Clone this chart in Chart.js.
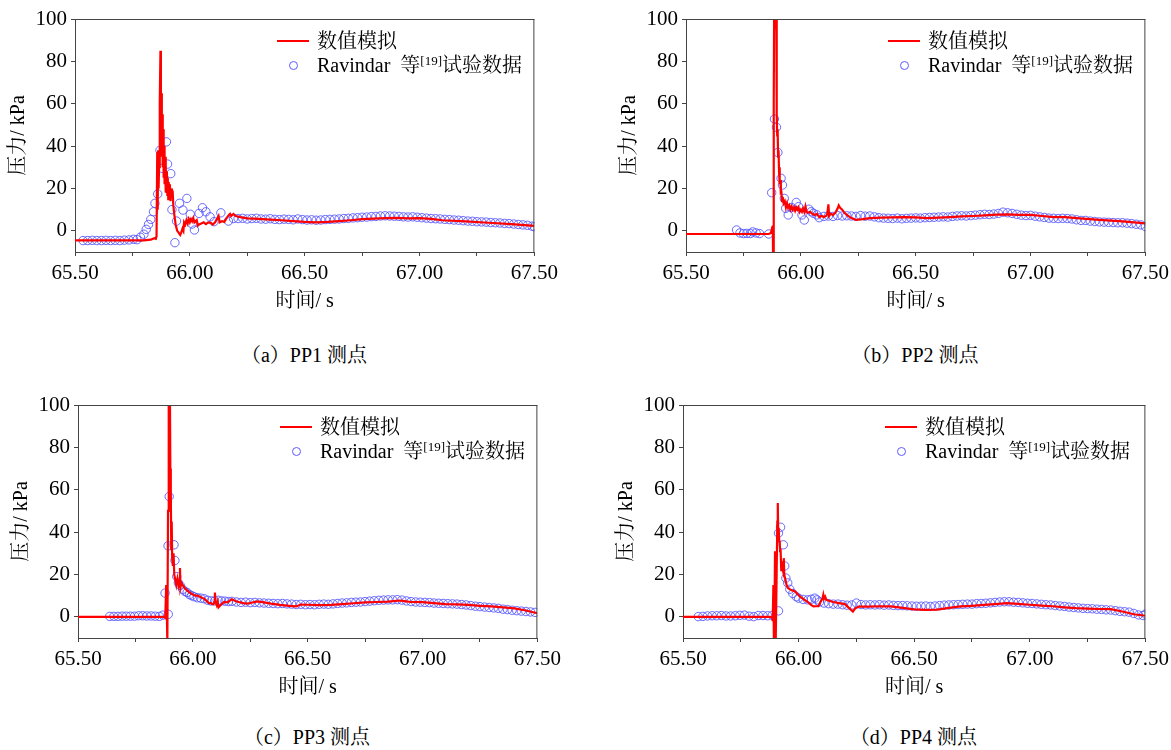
<!DOCTYPE html>
<html>
<head>
<meta charset="utf-8">
<script src="https://cdn.jsdelivr.net/npm/chart.js@4.4.1/dist/chart.umd.min.js"></script>
<style>
  html, body { margin: 0; padding: 0; background: #fff; }
  #page { position: relative; width: 1171px; height: 750px; overflow: hidden; background: #fff;
          font-family: 'Liberation Serif', 'Noto Serif CJK SC', serif; color: #000; }
  canvas { position: absolute; }
  .leg { position: absolute; font-size: 20px; line-height: 24px; white-space: nowrap; }
  .legline { position: absolute; height: 2px; width: 32px; background: #ff0000; }
  .legcirc { position: absolute; width: 7px; height: 7px; border: 1px solid #5a5aff; border-radius: 50%; }
  .leg sup { font-size: 13px; vertical-align: 0; position: relative; top: -7px; }
  .cap { position: absolute; font-size: 20px; line-height: 24px; white-space: nowrap; transform: translateX(-50%); }
</style>
</head>
<body>
<div id="page"></div>
<script>
// ---------- axis ticks ----------
const xTickValues = [65.50, 65.75, 66.00, 66.25, 66.50, 66.75, 67.00, 67.25, 67.50];
const xLabelValues = [65.50, 66.00, 66.50, 67.00, 67.50];
const yTickValues = [0, 20, 40, 60, 80, 100];
const xRange = [65.50, 67.50];
const yRange = [-10, 100];

// ---------- texts ----------
const xTitle = "时间/ s";
const yTitle = "压力/ kPa";
const simLabel = "数值模拟";
const expLabelMain = "Ravindar";
const expLabelRest = ["等", "[19]", "试验数据"];
const captions = ["（a）PP1 测点", "（b）PP2 测点", "（c）PP3 测点", "（d）PP4 测点"];

// ---------- PP1 ----------
const simA = [[65.50,-4.5],[65.80,-4.5],[65.83,-4.2],[65.845,-3.5],[65.852,-3.8],[65.855,-2.5],[65.858,37],[65.860,10],[65.862,38],[65.864,20],[65.866,30],[65.868,45],[65.870,60],[65.872,85],[65.874,50],[65.876,65],[65.878,35],[65.880,55],[65.882,30],[65.884,48],[65.886,25],[65.888,40],[65.890,22],[65.892,35],[65.894,18],[65.896,30],[65.898,20],[65.900,28],[65.902,17],[65.904,25],[65.906,15],[65.908,23],[65.910,17],[65.913,22],[65.916,14],[65.919,20],[65.922,16],[65.925,19],[65.928,12],[65.932,8],[65.938,3],[65.945,0],[65.952,-1],[65.958,-2],[65.962,-1],[65.968,1],[65.972,0],[65.975,4],[65.980,3],[65.985,5],[65.990,3.5],[65.995,5.5],[66.000,4],[66.005,5.5],[66.010,4.5],[66.015,6],[66.02,4],[66.03,5],[66.035,2.5],[66.04,3],[66.05,3.5],[66.06,4],[66.07,3.2],[66.08,4],[66.09,3.8],[66.10,3],[66.11,4],[66.12,6],[66.125,7],[66.13,4],[66.14,4.5],[66.15,4.2],[66.16,6],[66.17,7.5],[66.175,8],[66.18,7],[66.19,8],[66.20,7],[66.22,6.5],[66.25,5.9],[66.30,5.6],[66.35,5.3],[66.40,5.0],[66.45,4.6],[66.50,4.2],[66.55,4.0],[66.60,4.2],[66.65,4.6],[66.70,5.0],[66.75,5.5],[66.80,5.8],[66.85,6.0],[66.90,6.1],[66.95,5.9],[67.00,6.0],[67.05,5.6],[67.10,5.0],[67.20,4.5],[67.30,3.8],[67.40,3.2],[67.50,2.3]];
const expA = [[65.535,-4.6],[65.555,-4.6],[65.575,-4.5],[65.595,-4.6],[65.615,-4.6],[65.635,-4.5],[65.655,-4.6],[65.675,-4.5],[65.695,-4.6],[65.715,-4.4],[65.735,-4.3],[65.755,-4.0],[65.77,-4.2],[65.785,-3.0],[65.80,-1.6],[65.81,0.7],[65.82,3.0],[65.83,5.4],[65.842,9.0],[65.848,13.0],[65.86,17.4],[65.87,38.0],[65.88,29.5],[65.898,42.0],[65.903,31.5],[65.917,27.0],[65.922,10.0],[65.935,-5.6],[65.942,4.6],[65.955,13.0],[65.97,9.8],[65.987,15.3],[66.002,7.8],[66.01,3.2],[66.02,0.4],[66.04,8.2],[66.055,10.9],[66.07,9.0],[66.088,6.6],[66.105,4.3],[66.135,8.5],[66.168,4.6],[66.19,5.8],[66.21,5.8],
  [66.23,5.9],[66.25,5.6],[66.27,5.8],[66.29,5.9],[66.31,5.6],[66.33,5.5],[66.35,5.7],[66.37,5.4],[66.39,5.3],[66.41,5.5],[66.43,5.4],[66.45,5.2],[66.47,5.6],[66.49,5.3],[66.51,5.1],[66.53,5.2],[66.55,5.0],[66.57,5.1],[66.59,5.3],[66.61,5.4],[66.63,5.5],[66.65,5.6],[66.67,5.8],[66.69,5.9],[66.71,6.1],[66.73,6.2],[66.75,6.4],[66.77,6.5],[66.79,6.7],[66.81,6.8],[66.83,7.0],[66.85,7.1],[66.87,7.0],[66.89,6.9],[66.91,6.8],[66.93,6.6],[66.95,6.5],[66.97,6.6],[66.99,6.4],[67.01,6.2],[67.03,6.0],[67.05,5.8],[67.07,5.7],[67.09,5.6],[67.11,5.4],[67.13,5.3],[67.15,5.1],[67.17,5.0],[67.19,4.8],[67.21,4.6],[67.23,4.5],[67.25,4.3],[67.27,4.2],[67.29,4.1],[67.31,3.9],[67.33,3.8],[67.35,3.7],[67.37,3.5],[67.39,3.4],[67.41,3.2],[67.43,3.0],[67.45,2.8],[67.47,2.6],[67.49,2.2],[67.50,1.9]];

// ---------- PP2 ----------
const simB = [[65.50,-1.5],[65.86,-1.5],[65.87,-1.0],[65.875,1.5],[65.878,2.5],[65.879,-12],[65.882,60],[65.884,110],[65.887,95],[65.889,115],[65.891,100],[65.893,110],[65.895,55],[65.897,45],[65.899,48],[65.901,35],[65.903,38],[65.905,28],[65.907,30],[65.909,22],[65.911,24],[65.913,17],[65.915,19],[65.918,14],[65.921,16],[65.925,13],[65.93,14],[65.935,11],[65.94,13],[65.945,11],[65.95,12],[65.955,10],[65.96,11.5],[65.965,10],[65.97,11],[65.975,9.5],[65.98,11],[65.985,10],[65.99,11],[65.995,9],[66.0,10],[66.005,9],[66.01,10.5],[66.015,9],[66.02,11.5],[66.025,9],[66.03,8.5],[66.04,9],[66.05,8],[66.06,7.5],[66.07,8],[66.08,6.5],[66.09,7],[66.10,6.5],[66.11,7],[66.115,8],[66.12,12.5],[66.123,7],[66.13,8],[66.14,7.5],[66.15,8.5],[66.16,10.5],[66.165,12],[66.17,11],[66.18,10],[66.19,8.5],[66.20,7.5],[66.22,6],[66.24,5.2],[66.27,5.5],[66.30,6],[66.35,6.2],[66.40,6.3],[66.45,6.5],[66.50,6.3],[66.55,6],[66.60,6.2],[66.65,6.5],[66.70,6.8],[66.75,7],[66.80,7.3],[66.85,7.6],[66.90,7.8],[66.95,7.5],[67.00,7.5],[67.05,7],[67.10,6.5],[67.15,6.5],[67.20,6],[67.30,5.2],[67.40,4.5],[67.50,3.5]];
const expB = [[65.72,0.4],[65.735,-1.0],[65.75,-1.3],[65.765,-1.2],[65.78,-1.3],[65.79,-0.5],[65.805,-1.0],[65.82,-1.3],[65.86,-1.5],[65.873,18],[65.885,52.8],[65.894,48.9],[65.90,37],[65.914,24.8],[65.92,21.6],[65.928,15.3],[65.934,10.6],[65.945,7.5],[65.96,11],[65.98,13.4],[65.99,11.4],[66.005,7.5],[66.015,5.1],[66.035,10.2],[66.045,9],[66.055,8.3],[66.07,7.5],[66.08,6.2],[66.10,6.8],[66.12,7],[66.14,6.8],[66.16,7.2],[66.18,7],
  [66.20,7.1],[66.22,7.0],[66.24,6.8],[66.26,7.2],[66.28,6.9],[66.30,7.0],[66.32,6.6],[66.34,6.2],[66.36,6.0],[66.38,5.9],[66.40,5.8],[66.42,6.0],[66.44,5.7],[66.46,5.9],[66.48,6.0],[66.50,6.1],[66.52,6.0],[66.54,6.2],[66.56,6.3],[66.58,6.4],[66.60,6.5],[66.62,6.6],[66.64,6.5],[66.66,6.8],[66.68,7.0],[66.70,7.1],[66.72,7.0],[66.74,7.2],[66.76,7.4],[66.78,7.6],[66.80,7.8],[66.82,7.7],[66.84,7.9],[66.86,8.2],[66.88,8.8],[66.90,8.5],[66.92,8.2],[66.94,7.8],[66.96,7.4],[66.98,7.2],[67.00,7.3],[67.02,6.9],[67.04,6.6],[67.06,6.3],[67.08,6.0],[67.10,5.9],[67.12,5.8],[67.14,5.9],[67.16,5.8],[67.18,5.6],[67.20,5.2],[67.22,4.9],[67.24,4.9],[67.26,4.6],[67.28,4.4],[67.30,4.2],[67.32,4.1],[67.34,4.0],[67.36,3.9],[67.38,3.8],[67.40,3.8],[67.42,3.6],[67.44,3.4],[67.46,3.1],[67.48,2.8],[67.50,2.0]];

// ---------- PP3 ----------
const simC = [[65.50,0],[65.875,0],[65.88,-0.5],[65.884,15],[65.887,0],[65.889,-12],[65.892,50],[65.895,110],[65.898,100],[65.90,110],[65.902,70],[65.904,60],[65.906,32],[65.908,45],[65.91,28],[65.913,24],[65.916,30],[65.919,20],[65.923,17.7],[65.928,15],[65.933,18],[65.938,15],[65.942,17],[65.944,23],[65.946,14],[65.95,16],[65.956,15],[65.965,13.5],[65.975,12.5],[65.985,11.5],[65.992,11],[66.0,10.5],[66.01,10],[66.02,10],[66.035,9.2],[66.05,8.5],[66.06,7.5],[66.07,6.5],[66.078,6.5],[66.085,6],[66.09,6],[66.093,7],[66.096,11.5],[66.099,7],[66.104,5.5],[66.108,7],[66.112,4.5],[66.12,5.5],[66.136,7],[66.15,6.8],[66.17,8.3],[66.185,7.5],[66.2,7],[66.22,6.5],[66.236,6.2],[66.25,6.5],[66.28,7.3],[66.31,6.8],[66.34,6.2],[66.38,5.6],[66.42,5.2],[66.45,4.9],[66.47,5.8],[66.50,5.7],[66.55,5.5],[66.60,5.6],[66.65,6.0],[66.70,6.4],[66.75,6.8],[66.80,7.0],[66.85,7.2],[66.90,7.7],[66.92,7.4],[66.95,7.0],[67.00,6.9],[67.05,6.5],[67.10,6.0],[67.15,5.9],[67.20,5.6],[67.25,5.2],[67.30,4.9],[67.35,4.5],[67.40,4.0],[67.45,3.0],[67.50,1.7]];
const expC = [[65.638,0.2],[65.656,0.2],[65.674,0.2],[65.692,0.3],[65.71,0.3],[65.728,0.3],[65.746,0.3],[65.764,0.5],[65.782,0.5],[65.80,0.4],[65.818,0.4],[65.836,0.3],[65.854,0.2],[65.87,0.8],[65.879,11.2],[65.892,33.5],[65.893,1.2],[65.897,56.8],[65.918,34],[65.922,26.6],[65.93,19],[65.937,16],[65.945,14.8],[65.956,13],[65.965,12],[65.975,11.5],[65.985,10.5],[65.995,10],[66.005,9.5],[66.02,9],[66.035,8.8],[66.05,8.5],[66.065,7.8],[66.08,7.5],[66.095,7.5],[66.11,7.8],[66.125,7.5],[66.14,7.4],[66.155,7.2],
  [66.17,7.3],[66.19,7.0],[66.21,6.8],[66.23,6.9],[66.25,6.7],[66.27,6.8],[66.29,6.6],[66.31,6.5],[66.33,6.4],[66.35,6.3],[66.37,6.2],[66.39,6.3],[66.41,6.1],[66.43,6.0],[66.45,5.8],[66.47,5.9],[66.49,5.7],[66.51,5.8],[66.53,5.7],[66.55,5.9],[66.57,6.0],[66.59,5.9],[66.61,6.1],[66.63,6.3],[66.65,6.5],[66.67,6.6],[66.69,6.8],[66.71,6.9],[66.73,7.0],[66.75,7.2],[66.77,7.4],[66.79,7.6],[66.81,7.8],[66.83,7.9],[66.85,8.0],[66.87,8.0],[66.89,8.1],[66.91,7.9],[66.93,7.5],[66.95,7.2],[66.97,7.0],[66.99,6.9],[67.01,6.8],[67.03,6.7],[67.05,6.5],[67.07,6.4],[67.09,6.3],[67.11,6.2],[67.13,6.1],[67.15,6.0],[67.17,5.8],[67.19,5.6],[67.21,5.3],[67.23,5.0],[67.25,4.8],[67.27,4.6],[67.29,4.4],[67.31,4.2],[67.33,4.0],[67.35,3.6],[67.37,3.4],[67.39,3.1],[67.41,2.9],[67.43,2.7],[67.45,2.5],[67.47,2.3],[67.49,2.1]];

// ---------- PP4 ----------
const simD = [[65.50,0],[65.885,0],[65.888,-2],[65.891,15],[65.893,-10],[65.895,-12],[65.898,31],[65.90,5],[65.902,-12],[65.905,20],[65.908,45],[65.91,53.7],[65.912,38],[65.914,42],[65.916,35.6],[65.918,36],[65.92,31],[65.922,32],[65.925,22],[65.928,24],[65.932,22],[65.934,26],[65.936,27.7],[65.938,20],[65.942,18],[65.948,15],[65.955,13.5],[65.97,12.5],[65.985,12],[66.005,9.6],[66.02,8.5],[66.04,7],[66.055,5.5],[66.065,4.9],[66.075,5],[66.086,5],[66.095,7],[66.1,8],[66.104,9],[66.107,10.4],[66.11,8.5],[66.115,9.5],[66.12,8],[66.135,7.5],[66.15,7],[66.175,6.5],[66.2,6],[66.22,4],[66.235,2.5],[66.245,4],[66.26,4.8],[66.3,4.8],[66.35,5],[66.4,4.9],[66.45,4.2],[66.50,3.5],[66.55,3.3],[66.60,3.4],[66.65,4.2],[66.70,4.9],[66.75,5.2],[66.80,5.6],[66.85,6],[66.90,6.5],[66.95,6.1],[67.00,5.7],[67.05,5.3],[67.10,5],[67.15,4.5],[67.20,4.1],[67.25,3.9],[67.30,3.7],[67.35,3.6],[67.40,2.5],[67.45,1.2],[67.50,0.5]];
const expD = [[65.566,0.1],[65.586,0.2],[65.606,0.4],[65.626,0.5],[65.646,0.5],[65.666,0.6],[65.686,0.4],[65.706,0.4],[65.726,0.5],[65.746,0.7],[65.766,0.8],[65.786,0.3],[65.806,0.1],[65.826,0.6],[65.846,0.6],[65.866,0.5],[65.886,0.7],[65.913,2.8],[65.913,39.5],[65.922,42.3],[65.934,34],[65.94,24],[65.945,18.3],[65.953,16],[65.962,13],[65.975,11],[65.99,9.5],[66.0,8.8],[66.02,8.2],[66.04,8],[66.055,8.3],[66.07,8.8],[66.08,8],[66.09,7],[66.11,6.5],[66.13,6.2],[66.15,6],[66.17,6],[66.19,5.7],[66.21,5.5],[66.23,5.6],[66.25,6.5],
  [66.27,5.8],[66.29,5.6],[66.31,5.7],[66.33,5.6],[66.35,5.7],[66.37,5.5],[66.39,5.6],[66.41,5.4],[66.43,5.3],[66.45,5.3],[66.47,5.2],[66.49,5.1],[66.51,5.0],[66.53,5.0],[66.55,5.1],[66.57,4.9],[66.59,5.1],[66.61,5.3],[66.63,5.5],[66.65,5.6],[66.67,5.7],[66.69,5.8],[66.71,5.9],[66.73,6.0],[66.75,6.0],[66.77,6.2],[66.79,6.3],[66.81,6.4],[66.83,6.6],[66.85,6.8],[66.87,7.0],[66.89,7.1],[66.91,7.1],[66.93,6.9],[66.95,6.8],[66.97,6.6],[66.99,6.4],[67.01,6.3],[67.03,6.1],[67.05,5.9],[67.07,5.7],[67.09,5.6],[67.11,5.3],[67.13,5.1],[67.15,4.9],[67.17,4.6],[67.19,4.4],[67.21,4.2],[67.23,4.0],[67.25,3.9],[67.27,3.8],[67.29,3.6],[67.31,3.5],[67.33,3.3],[67.35,3.2],[67.37,2.9],[67.39,2.6],[67.41,2.4],[67.43,2.2],[67.45,1.6],[67.47,0.9],[67.49,0.6],[67.50,1.3]];

// ---------- layout of the four panels (plot-area rectangles in page pixels) ----------
const panels = [
  { sim: simA, exp: expA, cap: captions[0], left: 75,  top: 19,  right: 539,  bottom: 252, capY: 343 },
  { sim: simB, exp: expB, cap: captions[1], left: 686, top: 19,  right: 1150, bottom: 252, capY: 343 },
  { sim: simC, exp: expC, cap: captions[2], left: 78,  top: 405, right: 542,  bottom: 638, capY: 725 },
  { sim: simD, exp: expD, cap: captions[3], left: 683, top: 405, right: 1150, bottom: 638, capY: 725 }
];

const AXIS_W = 75;
const AXIS_H = 68;
const PAD_TOP = 19;
const PAD_RIGHT = 24;
const fontFamily = "'Liberation Serif', 'Noto Serif CJK SC', serif";
const axisColor = '#444';

const boxPlugin = {
  id: 'box',
  afterDraw(chart) {
    const a = chart.chartArea, c = chart.ctx;
    c.save();
    c.strokeStyle = axisColor;
    c.lineWidth = 1;
    c.beginPath();
    c.moveTo(a.left, a.top + 0.5); c.lineTo(a.right, a.top + 0.5);
    c.moveTo(a.right - 0.5, a.top); c.lineTo(a.right - 0.5, a.bottom);
    c.stroke();
    c.restore();
  }
};

Chart.defaults.font.family = fontFamily;
const page = document.getElementById('page');

panels.forEach(p => {
  const plotW = p.right - p.left, plotH = p.bottom - p.top;
  const cv = document.createElement('canvas');
  const cw = AXIS_W + plotW + PAD_RIGHT, ch = PAD_TOP + plotH + AXIS_H;
  cv.width = cw; cv.height = ch;
  cv.style.left = (p.left - AXIS_W) + 'px';
  cv.style.top = (p.top - PAD_TOP) + 'px';
  cv.style.width = cw + 'px'; cv.style.height = ch + 'px';
  page.appendChild(cv);

  new Chart(cv, {
    type: 'scatter',
    data: {
      datasets: [
        { label: simLabel, data: p.sim.map(([x, y]) => ({ x, y })), showLine: true,
          borderColor: '#ff0000', borderWidth: 2.2, pointRadius: 0, tension: 0, order: 0 },
        { label: expLabelMain, data: p.exp.map(([x, y]) => ({ x, y })), showLine: false,
          pointStyle: 'circle', pointRadius: 4.2, borderColor: 'rgba(80,80,255,0.85)', borderWidth: 1,
          backgroundColor: 'rgba(0,0,0,0)', order: 1 }
      ]
    },
    options: {
      responsive: false, animation: false, devicePixelRatio: 1,
      layout: { padding: { top: PAD_TOP, right: PAD_RIGHT, left: 0, bottom: 0 } },
      plugins: { legend: { display: false }, tooltip: { enabled: false } },
      scales: {
        x: {
          type: 'linear', min: xRange[0], max: xRange[1],
          afterFit(s) { s.height = AXIS_H; },
          afterBuildTicks(s) { s.ticks = xTickValues.map(v => ({ value: v })); },
          ticks: {
            autoSkip: false, maxRotation: 0, padding: 5, color: '#000',
            font: { family: fontFamily, size: 21 },
            callback: v => xLabelValues.some(l => Math.abs(l - v) < 1e-6) ? Number(v).toFixed(2) : ''
          },
          grid: { drawOnChartArea: false, drawTicks: true, tickLength: 4, color: axisColor },
          border: { display: true, color: axisColor, width: 1 },
          title: { display: true, text: xTitle, color: '#000', font: { family: fontFamily, size: 20 }, padding: { top: 0, bottom: 6 } }
        },
        y: {
          type: 'linear', min: yRange[0], max: yRange[1],
          afterFit(s) { s.width = AXIS_W; },
          afterBuildTicks(s) { s.ticks = yTickValues.map(v => ({ value: v })); },
          ticks: { padding: 4, color: '#000', font: { family: fontFamily, size: 21 }, callback: v => String(v) },
          grid: { drawOnChartArea: false, drawTicks: true, tickLength: 4, color: axisColor },
          border: { display: true, color: axisColor, width: 1 },
          title: { display: true, text: yTitle, color: '#000', font: { family: fontFamily, size: 20 }, padding: { top: 7, bottom: 0 } }
        }
      }
    },
    plugins: [boxPlugin]
  });

  const lx = p.left + 202;
  const row1 = p.top + 22, row2 = p.top + 46;
  const l1 = document.createElement('div'); l1.className = 'legline';
  l1.style.left = lx + 'px'; l1.style.top = (row1 - 1) + 'px'; page.appendChild(l1);
  const c1 = document.createElement('div'); c1.className = 'legcirc';
  c1.style.left = (lx + 12) + 'px'; c1.style.top = (row2 - 4) + 'px'; page.appendChild(c1);
  const t1 = document.createElement('div'); t1.className = 'leg';
  t1.style.left = (lx + 40) + 'px'; t1.style.top = (row1 - 12) + 'px'; t1.textContent = simLabel; page.appendChild(t1);
  const t2 = document.createElement('div'); t2.className = 'leg';
  t2.style.left = (lx + 40) + 'px'; t2.style.top = (row2 - 12) + 'px';
  t2.innerHTML = expLabelMain + '&nbsp;&nbsp;' + expLabelRest[0] + '<sup>' + expLabelRest[1] + '</sup>' + expLabelRest[2];
  page.appendChild(t2);

  const cap = document.createElement('div'); cap.className = 'cap';
  cap.style.left = ((p.left + p.right) / 2 - 3) + 'px'; cap.style.top = p.capY + 'px';
  cap.textContent = p.cap; page.appendChild(cap);
});
</script>
</body>
</html>
